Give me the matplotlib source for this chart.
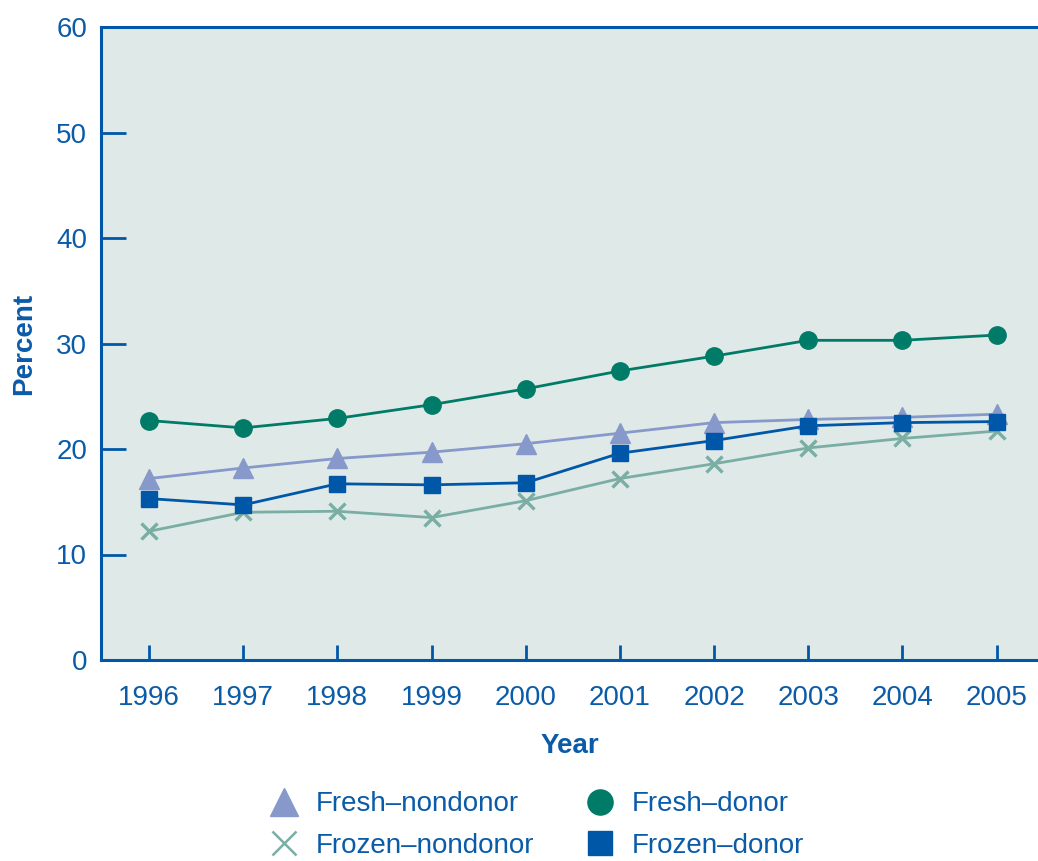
import matplotlib
matplotlib.use("Agg")
import matplotlib.pyplot as plt
from matplotlib.lines import Line2D

plt.rcParams['font.family'] = ['Liberation Sans', 'DejaVu Sans']

years = [1996, 1997, 1998, 1999, 2000, 2001, 2002, 2003, 2004, 2005]
fresh_nondonor = [17.2, 18.2, 19.1, 19.7, 20.5, 21.5, 22.5, 22.8, 23.0, 23.3]
fresh_donor = [22.7, 22.0, 22.9, 24.2, 25.7, 27.4, 28.8, 30.3, 30.3, 30.8]
frozen_nondonor = [12.2, 14.0, 14.1, 13.5, 15.1, 17.2, 18.6, 20.1, 21.0, 21.7]
frozen_donor = [15.3, 14.7, 16.7, 16.6, 16.8, 19.6, 20.8, 22.2, 22.5, 22.6]
y_ticks = [0, 10, 20, 30, 40, 50, 60]

BLUE = '#0057A8'
TEXT = '#0A5BA8'
BG = '#DFE9E8'
C_FN = '#8798CB'
C_FD = '#007B67'
C_ZN = '#7AAEA4'
C_ZD = '#0057A8'

fig = plt.figure(figsize=(10.38, 8.61), dpi=100)
ax = fig.add_axes([101/1038, 1 - 660/861, 1 - 101/1038, (660 - 27)/861])
ax.set_facecolor(BG)

lw = 2.0
h_fn, = ax.plot(years, fresh_nondonor, color=C_FN, lw=lw, marker='^', ms=14,
                label='Fresh\u2013nondonor', zorder=3)
h_zn, = ax.plot(years, frozen_nondonor, color=C_ZN, lw=lw, marker='x', ms=12,
                mew=2.4, label='Frozen\u2013nondonor', zorder=3)
h_zd, = ax.plot(years, frozen_donor, color=C_ZD, lw=lw, marker='s', ms=11.5,
                label='Frozen\u2013donor', zorder=4)
h_fd, = ax.plot(years, fresh_donor, color=C_FD, lw=lw, marker='o', ms=12.5,
                label='Fresh\u2013donor', zorder=4)

ax.set_xlim(1995.49, 2005.44)
ax.set_ylim(0, 60)
ax.set_xticks(years)
ax.set_yticks(y_ticks)

for side in ['left', 'bottom', 'top']:
    ax.spines[side].set_color(BLUE)
    ax.spines[side].set_linewidth(2.2)
ax.spines['right'].set_visible(False)

ax.tick_params(axis='y', direction='in', length=18, width=2, color=BLUE,
               labelcolor=TEXT, labelsize=20, pad=10)
ax.tick_params(axis='x', direction='in', length=11, width=2, color=BLUE,
               labelcolor=TEXT, labelsize=20, pad=18)

ax.set_xlabel('Year', fontsize=20, fontweight='bold', color=TEXT, labelpad=16)
ax.set_ylabel('Percent', fontsize=20, fontweight='bold', color=TEXT, labelpad=14)


def proxy(h):
    return Line2D([], [], color=h.get_color(), marker=h.get_marker(), ls='none',
                  ms=h.get_markersize() * 1.45, mew=1.8 if h.get_marker() == 'x' else 1)


handles = [proxy(h_fn), proxy(h_zn), proxy(h_fd), proxy(h_zd)]
labels = [h_fn.get_label(), h_zn.get_label(), h_fd.get_label(), h_zd.get_label()]
leg = fig.legend(handles, labels, ncol=2, loc='center',
                 bbox_to_anchor=(537/1038, 1 - 825/861), frameon=False,
                 fontsize=20, handlelength=1.0, handletextpad=0.65,
                 columnspacing=1.85, labelspacing=0.55, borderpad=0.2)
for t in leg.get_texts():
    t.set_color(TEXT)

fig.savefig('out.png', dpi=100, facecolor='white')
